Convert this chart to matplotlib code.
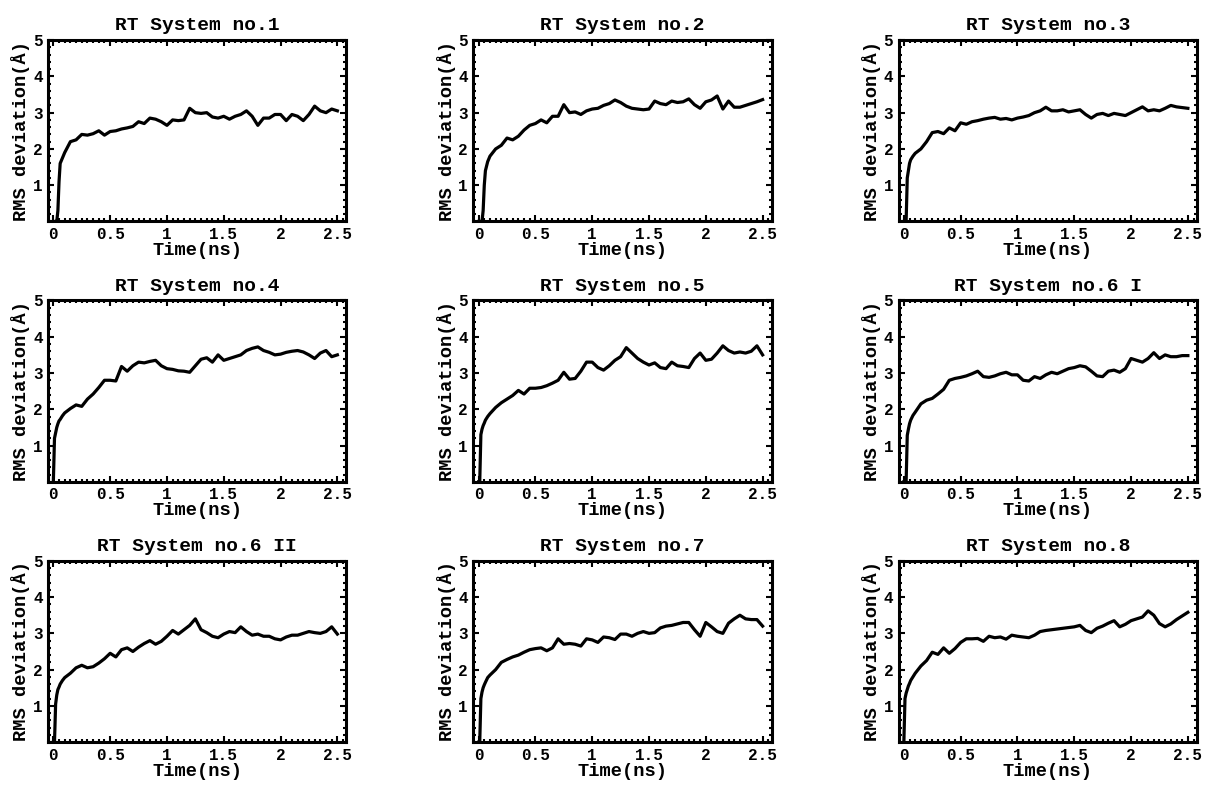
from matplotlib import pyplot as plt
from matplotlib.ticker import MultipleLocator

# tiempo (ns)
tiempo = [0, 0.01, 0.02, 0.03, 0.04, 0.05, 0.06, 0.08,
          0.10, 0.15, 0.20, 0.25, 0.30, 0.35, 0.40, 0.45, 0.50, 0.55,
          0.60, 0.65, 0.70, 0.75, 0.80, 0.85, 0.90, 0.95, 1.00, 1.05,
          1.10, 1.15, 1.20, 1.25, 1.30, 1.35, 1.40, 1.45, 1.50, 1.55,
          1.60, 1.65, 1.70, 1.75, 1.80, 1.85, 1.90, 1.95, 2.00, 2.05,
          2.10, 2.15, 2.20, 2.25, 2.30, 2.35, 2.40, 2.45, 2.50]

titulos = ['RT System no.1', 'RT System no.2', 'RT System no.3',
           'RT System no.4', 'RT System no.5', 'RT System no.6 I',
           'RT System no.6 II', 'RT System no.7', 'RT System no.8']

rms1 = [0, 0, 0, 0, 0.3, 1.1, 1.6, 1.75,
        1.9, 2.2, 2.25, 2.4, 2.38, 2.42, 2.5, 2.38, 2.48, 2.5,
        2.55, 2.58, 2.62, 2.75, 2.7, 2.85, 2.82, 2.75, 2.65, 2.8,
        2.78, 2.8, 3.12, 3.0, 2.98, 3.0, 2.88, 2.85, 2.9, 2.82,
        2.9, 2.95, 3.05, 2.9, 2.65, 2.85, 2.85, 2.95, 2.95, 2.78,
        2.95, 2.9, 2.78, 2.95, 3.18, 3.05, 3.0, 3.1, 3.05]

rms2 = [0, 0, 0, 0, 0.3, 1.0, 1.4, 1.65,
        1.8, 2.0, 2.1, 2.3, 2.25, 2.35, 2.52, 2.65, 2.7, 2.8,
        2.72, 2.9, 2.9, 3.22, 3.0, 3.02, 2.95, 3.05, 3.1, 3.12,
        3.2, 3.25, 3.35, 3.28, 3.18, 3.12, 3.1, 3.08, 3.1, 3.32,
        3.25, 3.22, 3.32, 3.28, 3.3, 3.38, 3.22, 3.12, 3.3, 3.35,
        3.46, 3.1, 3.32, 3.15, 3.15, 3.2, 3.25, 3.3, 3.36]

rms3 = [0, 0, 0, 1.2, 1.4, 1.6, 1.7, 1.8,
        1.88, 2.0, 2.2, 2.45, 2.48, 2.42, 2.58, 2.5, 2.72, 2.68,
        2.75, 2.78, 2.82, 2.85, 2.87, 2.82, 2.84, 2.8, 2.85, 2.88,
        2.92, 3.0, 3.05, 3.15, 3.05, 3.05, 3.08, 3.02, 3.05, 3.08,
        2.95, 2.85, 2.95, 2.98, 2.92, 2.98, 2.95, 2.92, 3.0, 3.08,
        3.16, 3.05, 3.08, 3.05, 3.12, 3.2, 3.16, 3.14, 3.12]

rms4 = [0, 1.2, 1.35, 1.5, 1.6, 1.68, 1.72, 1.82,
        1.9, 2.02, 2.12, 2.08, 2.28, 2.42, 2.6, 2.8, 2.8, 2.78,
        3.18, 3.05, 3.2, 3.3, 3.28, 3.32, 3.35, 3.2, 3.12, 3.1,
        3.06, 3.05, 3.02, 3.2, 3.38, 3.42, 3.3, 3.5, 3.35, 3.4,
        3.45, 3.5, 3.62, 3.68, 3.72, 3.62, 3.57, 3.5, 3.52, 3.57,
        3.6, 3.62, 3.58, 3.5, 3.4, 3.55, 3.62, 3.45, 3.5]

rms5 = [0, 0, 1.3, 1.45, 1.55, 1.62, 1.7, 1.8,
        1.88, 2.05, 2.18, 2.28, 2.38, 2.52, 2.42, 2.58, 2.58, 2.6,
        2.65, 2.72, 2.8, 3.02, 2.83, 2.85, 3.05, 3.3, 3.3, 3.15,
        3.08, 3.2, 3.35, 3.45, 3.7, 3.55, 3.4, 3.3, 3.22, 3.28,
        3.15, 3.12, 3.3, 3.2, 3.18, 3.15, 3.4, 3.55, 3.35, 3.38,
        3.55, 3.75, 3.62, 3.55, 3.58, 3.55, 3.6, 3.75, 3.5]

rms6a = [0, 0, 0, 1.28, 1.45, 1.6, 1.7, 1.83,
         1.92, 2.15, 2.25, 2.3, 2.42, 2.55, 2.8, 2.85, 2.88, 2.92,
         2.98, 3.05, 2.9, 2.88, 2.92, 2.98, 3.02, 2.95, 2.95, 2.8,
         2.78, 2.9, 2.85, 2.95, 3.02, 2.98, 3.05, 3.12, 3.15, 3.2,
         3.17, 3.05, 2.92, 2.9, 3.05, 3.08, 3.02, 3.12, 3.4, 3.35,
         3.3, 3.4, 3.56, 3.4, 3.5, 3.45, 3.45, 3.48, 3.48]

rms6b = [0, 0, 1.05, 1.3, 1.45, 1.52, 1.6, 1.7,
         1.78, 1.9, 2.05, 2.12, 2.05, 2.08, 2.18, 2.3, 2.45, 2.35,
         2.55, 2.6, 2.5, 2.62, 2.72, 2.8, 2.7, 2.78, 2.92, 3.08,
         2.98, 3.1, 3.22, 3.4, 3.1, 3.02, 2.92, 2.88, 2.98, 3.05,
         3.02, 3.18, 3.05, 2.95, 2.98, 2.92, 2.92, 2.85, 2.82, 2.9,
         2.95, 2.95, 3.0, 3.05, 3.02, 3.0, 3.05, 3.18, 2.98]

rms7 = [0, 0, 1.2, 1.38, 1.5, 1.58, 1.65, 1.78,
        1.85, 2.0, 2.2, 2.28, 2.35, 2.4, 2.48, 2.55, 2.58, 2.6,
        2.52, 2.6, 2.85, 2.7, 2.72, 2.7, 2.65, 2.85, 2.82, 2.75,
        2.9, 2.88, 2.83, 2.98, 2.98, 2.92, 3.0, 3.05, 3.0, 3.02,
        3.15, 3.2, 3.22, 3.26, 3.3, 3.3, 3.1, 2.92, 3.3, 3.18,
        3.05, 3.0, 3.28, 3.4, 3.5, 3.4, 3.38, 3.38, 3.2]

rms8 = [0, 1.2, 1.35, 1.45, 1.55, 1.62, 1.7, 1.8,
        1.9, 2.1, 2.25, 2.48, 2.42, 2.6, 2.45, 2.58, 2.75, 2.85,
        2.85, 2.86, 2.78, 2.92, 2.88, 2.9, 2.84, 2.95, 2.92, 2.9,
        2.88, 2.95, 3.05, 3.08, 3.1, 3.12, 3.14, 3.16, 3.18, 3.22,
        3.08, 3.02, 3.14, 3.2, 3.28, 3.35, 3.18, 3.25, 3.35, 3.4,
        3.45, 3.62, 3.5, 3.27, 3.18, 3.26, 3.38, 3.48, 3.58]

series = [rms1, rms2, rms3, rms4, rms5, rms6a, rms6b, rms7, rms8]

fuente = 'Liberation Mono'
plt.rcParams['font.family'] = fuente
plt.rcParams['font.weight'] = 'bold'

fig, axs = plt.subplots(3, 3, figsize=(12.06, 7.87), dpi=100)
plt.subplots_adjust(left=0.040, right=0.9925, top=0.949, bottom=0.057,
                    wspace=0.426, hspace=0.436)

for ax, titulo, rms in zip(axs.flat, titulos, series):
    ax.plot(tiempo, rms, color='black', lw=2.3)
    ax.set_xlim(-0.045, 2.58)
    ax.set_ylim(0, 5)
    ax.set_xticks([0, 0.5, 1, 1.5, 2, 2.5])
    ax.set_xticklabels(['0', '0.5', '1', '1.5', '2', '2.5'])
    ax.set_yticks([1, 2, 3, 4, 5])
    ax.xaxis.set_minor_locator(MultipleLocator(0.05))
    ax.yaxis.set_minor_locator(MultipleLocator(0.2))
    ax.tick_params(which='both', direction='in', top=True, right=True,
                   labelsize=11.5, width=1.5)
    ax.tick_params(which='major', length=4, pad=4)
    ax.tick_params(which='minor', length=2)
    for lado in ax.spines.values():
        lado.set_linewidth(2.2)
    ax.set_title(titulo, fontsize=14, fontweight='bold', pad=7)
    ax.set_xlabel('Time(ns)', fontsize=13.5, fontweight='bold', labelpad=0)
    ax.set_ylabel('RMS deviation(Å)', fontsize=13.5, fontweight='bold', labelpad=2)

plt.savefig('out.png', dpi=100)
